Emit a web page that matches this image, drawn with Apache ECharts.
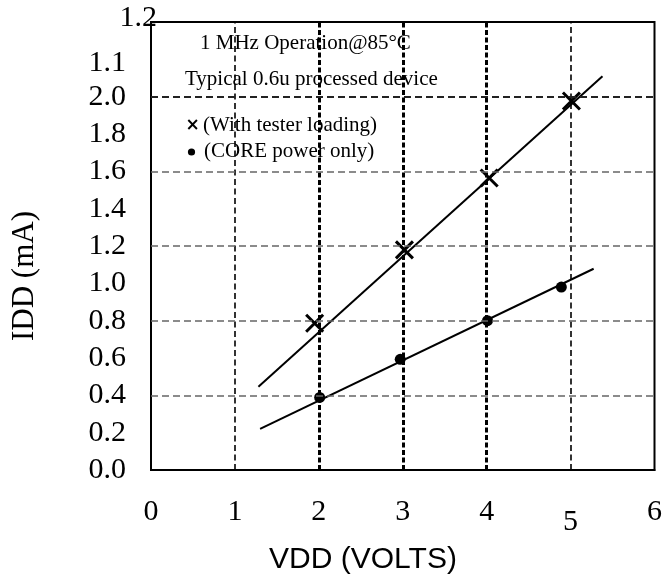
<!DOCTYPE html>
<html>
<head>
<meta charset="utf-8">
<script src="https://cdn.jsdelivr.net/npm/echarts@6/dist/echarts.min.js"></script>
<style>html,body{margin:0;padding:0;background:#fff}#c{width:665px;height:580px}</style>
</head>
<body>
<div id="c"></div>
<script>
// ---- data ----
const xTickLabels = ['0','1','2','3','4','5','6'];
const yTickLabels = ['0.0','0.2','0.4','0.6','0.8','1.0','1.2','1.4','1.6','1.8','2.0','1.1','1.2'];
const testerV = [1.95, 3.02, 4.03, 5.01];
const testerI = [0.786, 1.179, 1.564, 1.977];
const coreV = [2.01, 2.97, 4.01, 4.89];
const coreI = [0.389, 0.593, 0.80, 0.98];
const fitTesterV = [1.28, 5.38];
const fitTesterI = [0.446, 2.11];
const fitCoreV = [1.30, 5.275];
const fitCoreI = [0.22, 1.078];
const vGridV = [1, 2, 3, 4, 5];
const hGridI = [0.4, 0.8, 1.2, 1.6, 2.0];
const annoTitle = '1 MHz Operation@85°C';
const annoSub = 'Typical 0.6u processed device';
const legendTester = '(With tester loading)';
const legendCore = '(CORE power only)';

const zip = (a, b) => a.map((v, i) => [v, b[i]]);
const serif = 'Liberation Serif';

const chart = echarts.init(document.getElementById('c'), null, {renderer: 'canvas'});

const vLines = vGridV.map(v => ({
  xAxis: v,
  lineStyle: (v === 1 || v === 5)
    ? {color: '#000', width: 1.6, type: [6, 3.5]}
    : {color: '#000', width: 3, type: [5, 2.5]}
}));
const hLines = hGridI.map(v => ({
  yAxis: v,
  lineStyle: (v === 2.0)
    ? {color: '#222', width: 2, type: [7, 4]}
    : {color: '#666', width: 1.5, type: [7, 4]}
}));

chart.setOption({
  animation: false,
  backgroundColor: '#fff',
  grid: {left: 151, right: 9, top: 22, bottom: 110, show: true, borderColor: '#000', borderWidth: 2, backgroundColor: 'transparent'},
  xAxis: {
    type: 'value', min: 0, max: 6, interval: 1,
    axisLine: {show: true, lineStyle: {color: '#000', width: 2}},
    axisTick: {show: false},
    splitLine: {show: false},
    axisLabel: {
      margin: 27, fontFamily: serif, fontSize: 30, color: '#000',
      formatter: v => {
        const s = xTickLabels[Math.round(v)];
        return s === '5' ? '{low|' + s + '}' : s;
      },
      rich: {low: {fontFamily: serif, fontSize: 30, color: '#000', padding: [10, 0, 0, 0]}}
    }
  },
  yAxis: [{
    type: 'value', min: 0, max: 2.4, interval: 0.2,
    axisLine: {show: true, lineStyle: {color: '#000', width: 2}},
    axisTick: {show: false},
    splitLine: {show: false},
    axisLabel: {
      margin: 25, fontFamily: serif, fontSize: 30, color: '#000',
      formatter: v => {
        const i = Math.round(v / 0.2);
        if (i === 12) return '';
        if (i === 11) return '{low|' + yTickLabels[i] + '}';
        return yTickLabels[i];
      },
      rich: {low: {fontFamily: serif, fontSize: 30, color: '#000', padding: [8, 0, 0, 0]}}
    }
  }, {
    type: 'value', min: 0, max: 2.4, interval: 0.2, position: 'left', offset: -31,
    axisLine: {show: false}, axisTick: {show: false}, splitLine: {show: false},
    axisLabel: {
      margin: 25, fontFamily: serif, fontSize: 30, color: '#000',
      formatter: v => {
        const i = Math.round(v / 0.2);
        return i === 12 ? '{up|' + yTickLabels[i] + '}' : '';
      },
      rich: {up: {fontFamily: serif, fontSize: 30, color: '#000', padding: [0, 0, 8, 0]}}
    }
  }],
  series: [
    {
      type: 'line', data: [], z: 1, silent: true,
      markLine: {symbol: 'none', silent: true, label: {show: false}, animation: false, data: vLines.concat(hLines)}
    },
    {
      type: 'line', data: zip(fitTesterV, fitTesterI), symbol: 'none', z: 3,
      lineStyle: {color: '#000', width: 2}
    },
    {
      type: 'line', data: zip(fitCoreV, fitCoreI), symbol: 'none', z: 3,
      lineStyle: {color: '#000', width: 2}
    },
    {
      type: 'scatter', data: zip(testerV, testerI), z: 4,
      symbol: 'path://M0,0L10,10M10,0L0,10', symbolSize: 17,
      itemStyle: {color: 'none', borderColor: '#000', borderWidth: 3, opacity: 1}
    },
    {
      type: 'scatter', data: zip(coreV, coreI), z: 4,
      symbol: 'circle', symbolSize: 11,
      itemStyle: {color: '#000', opacity: 1}
    }
  ],
  graphic: [
    {type: 'text', z: 10, style: {x: 200, y: 43, text: annoTitle, font: '21px "Liberation Serif"', fill: '#000', textAlign: 'left', textVerticalAlign: 'middle'}},
    {type: 'text', z: 10, style: {x: 185, y: 79, text: annoSub, font: '21px "Liberation Serif"', fill: '#000', textAlign: 'left', textVerticalAlign: 'middle'}},
    {type: 'text', z: 10, style: {x: 192.5, y: 126, text: '×', font: 'bold 17px "DejaVu Sans"', fill: '#000', textAlign: 'center', textVerticalAlign: 'middle'}},
    {type: 'text', z: 10, style: {x: 203, y: 125, text: legendTester, font: '21px "Liberation Serif"', fill: '#000', textAlign: 'left', textVerticalAlign: 'middle'}},
    {type: 'circle', z: 10, shape: {cx: 191.5, cy: 152, r: 3.6}, style: {fill: '#000'}},
    {type: 'text', z: 10, style: {x: 204, y: 151, text: legendCore, font: '21px "Liberation Serif"', fill: '#000', textAlign: 'left', textVerticalAlign: 'middle'}},
    {type: 'text', z: 10, x: 25, y: 276, rotation: Math.PI / 2, style: {x: 0, y: 0, text: 'IDD (mA)', font: '31px "Liberation Serif"', fill: '#000', textAlign: 'center', textVerticalAlign: 'middle'}},
    {type: 'text', z: 10, style: {x: 363, y: 560, text: 'VDD (VOLTS)', font: '30px "Liberation Sans"', fill: '#000', textAlign: 'center', textVerticalAlign: 'middle'}}
  ]
});
</script>
</body>
</html>
